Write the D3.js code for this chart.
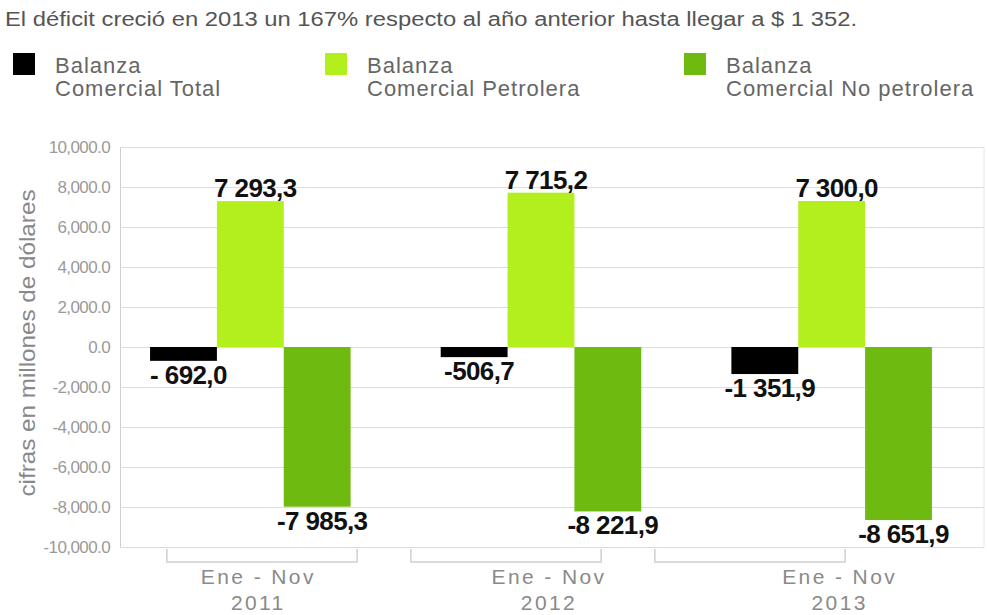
<!DOCTYPE html>
<html>
<head>
<meta charset="utf-8">
<script src="https://cdn.jsdelivr.net/npm/d3@7"></script>
<style>
  html, body { margin: 0; padding: 0; background: #fff; }
  svg { display: block; font-family: "Liberation Sans", Arial, sans-serif; }
</style>
</head>
<body>
<svg id="chart" width="987" height="615"></svg>
<script>
// ---- data ----
const titleText = "El déficit creció en 2013 un 167% respecto al año anterior hasta llegar a $ 1 352.";
const categories = ["2011", "2012", "2013"];
const categoryLine1 = ["Ene - Nov", "Ene - Nov", "Ene - Nov"];
const seriesNames = ["Balanza Comercial Total", "Balanza Comercial Petrolera", "Balanza Comercial No petrolera"];
const legendLine1 = ["Balanza", "Balanza", "Balanza"];
const legendLine2 = ["Comercial Total", "Comercial Petrolera", "Comercial No petrolera"];
const totalValues = [-692.0, -506.7, -1351.9];
const petroleraValues = [7293.3, 7715.2, 7300.0];
const noPetroleraValues = [-7985.3, -8221.9, -8651.9];
const totalLabels = ["- 692,0", "-506,7", "-1 351,9"];
const petroleraLabels = ["7 293,3", "7 715,2", "7 300,0"];
const noPetroleraLabels = ["-7 985,3", "-8 221,9", "-8 651,9"];
const yTicks = [10000, 8000, 6000, 4000, 2000, 0, -2000, -4000, -6000, -8000, -10000];
const yTitle = "cifras en millones de dólares";
const colors = ["#000000", "#b3ef1d", "#6fba10"];

const seriesValues = [totalValues, petroleraValues, noPetroleraValues];
const seriesLabels = [totalLabels, petroleraLabels, noPetroleraLabels];

const svg = d3.select("#chart");

// ---- scales ----
const plotLeft = 120, plotRight = 984;
const y = d3.scaleLinear().domain([-10000, 10000]).range([547, 147]);
const x0 = d3.scaleBand().domain(categories).range([105, 977]).paddingInner(0.31).paddingOuter(0.155);
const x1 = d3.scaleBand().domain(seriesNames).range([0, x0.bandwidth()]).padding(0);
const xBracket = d3.scaleBand().domain(categories).range([140, 872]).paddingInner(0.22).paddingOuter(0.11);

// ---- title ----
svg.append("text")
  .attr("x", 5).attr("y", 26)
  .attr("font-size", 20).attr("fill", "#555")
  .attr("textLength", 852).attr("lengthAdjust", "spacingAndGlyphs")
  .text(titleText);

// ---- legend ----
const legendX = [13, 325, 684];
const legend = svg.append("g").selectAll("g").data(seriesNames).join("g")
  .attr("transform", (d, i) => `translate(${legendX[i]},53)`);
legend.append("rect").attr("width", 22).attr("height", 22).attr("fill", (d, i) => colors[i]);
legend.append("text").attr("x", 42).attr("y", 20).attr("font-size", 22).attr("fill", "#666")
  .attr("letter-spacing", 1.0).text((d, i) => legendLine1[i]);
legend.append("text").attr("x", 42).attr("y", 43).attr("font-size", 22).attr("fill", "#666")
  .attr("letter-spacing", 1.0).text((d, i) => legendLine2[i]);

// ---- gridlines ----
const fmt = d3.format(",.1f");
const yAxis = d3.axisLeft(y).tickValues(yTicks).tickSize(-(plotRight - plotLeft)).tickPadding(10)
  .tickFormat(d => fmt(d).replace("\u2212", "-"));
const gy = svg.append("g").attr("transform", `translate(${plotLeft},0)`).call(yAxis);
gy.select(".domain").attr("stroke", "#cfcfcf");
gy.selectAll(".tick line").attr("stroke", "#dcdcdc").attr("stroke-width", 1.2);
gy.selectAll(".tick text").attr("font-size", 17).attr("fill", "#9a9a9a").attr("letter-spacing", -0.6)
  .attr("font-family", "'Liberation Sans', Arial, sans-serif");
svg.append("line").attr("x1", plotRight).attr("x2", plotRight).attr("y1", y(10000)).attr("y2", y(-10000))
  .attr("stroke", "#e6e6e6");

// ---- y title ----
svg.append("text")
  .attr("transform", `translate(35,${(y(10000) + y(-10000)) / 2 - 4}) rotate(-90)`)
  .attr("text-anchor", "middle").attr("font-size", 22).attr("fill", "#888")
  .attr("textLength", 307).attr("lengthAdjust", "spacingAndGlyphs")
  .text(yTitle);

// ---- bars ----
const bars = [];
categories.forEach((c, ci) => {
  seriesNames.forEach((s, si) => {
    bars.push({ cat: c, ser: s, si, value: seriesValues[si][ci], label: seriesLabels[si][ci] });
  });
});

svg.append("g").selectAll("rect").data(bars).join("rect")
  .attr("x", d => x0(d.cat) + x1(d.ser))
  .attr("width", x1.bandwidth())
  .attr("y", d => y(Math.max(0, d.value)))
  .attr("height", d => Math.abs(y(d.value) - y(0)))
  .attr("fill", d => colors[d.si]);

// ---- data labels ----
svg.append("g").selectAll("text").data(bars).join("text")
  .attr("x", d => x0(d.cat) + x1(d.ser) + x1.bandwidth() / 2 + 5)
  .attr("y", d => d.value >= 0 ? y(d.value) - 4 : y(d.value) + 23)
  .attr("text-anchor", "middle")
  .attr("font-size", 26).attr("font-weight", "bold").attr("fill", "#111")
  .attr("letter-spacing", -0.6)
  .text(d => d.label);

// ---- x brackets & labels ----
const gx = svg.append("g");
gx.selectAll("path").data(categories).join("path")
  .attr("d", c => {
    const a = xBracket(c), b = xBracket(c) + xBracket.bandwidth();
    return `M${a},549V562H${b}V549`;
  })
  .attr("fill", "none").attr("stroke", "#cfcfcf").attr("stroke-width", 1.5);
gx.selectAll("text.l1").data(categories).join("text").attr("class", "l1")
  .attr("x", c => x0(c) + x0.bandwidth() / 2 + 8).attr("y", 584)
  .attr("text-anchor", "middle").attr("font-size", 21).attr("fill", "#8a8a8a").attr("letter-spacing", 2.4)
  .text((c, i) => categoryLine1[i]);
gx.selectAll("text.l2").data(categories).join("text").attr("class", "l2")
  .attr("x", c => x0(c) + x0.bandwidth() / 2 + 8).attr("y", 610)
  .attr("text-anchor", "middle").attr("font-size", 21).attr("fill", "#8a8a8a").attr("letter-spacing", 2.4)
  .text(c => c);
</script>
</body>
</html>
